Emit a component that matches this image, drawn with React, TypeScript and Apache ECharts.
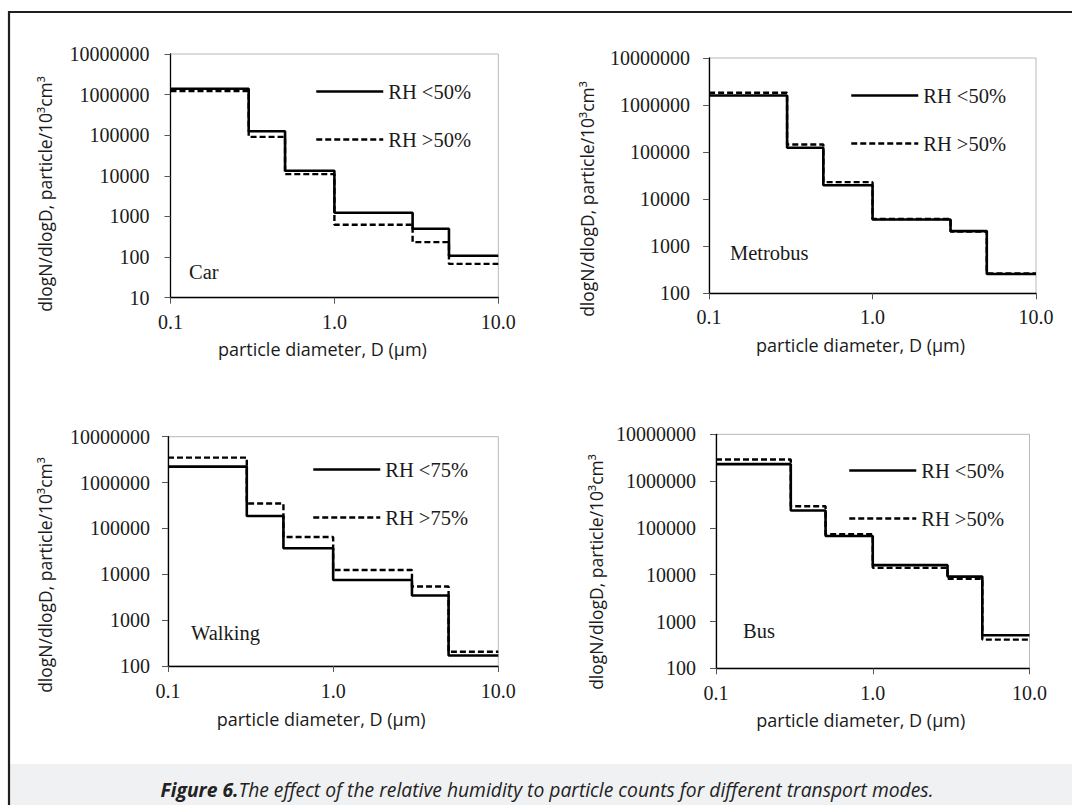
import React, { useEffect, useRef } from "react";
import * as echarts from "echarts";

// ---- data ----
const BIN_EDGES = [0.1, 0.3, 0.5, 1.0, 3.0, 5.0, 10.0];

const CAR_LOW = [1.4e6, 1.25e5, 1.33e4, 1230, 500, 108];
const CAR_HIGH = [1.23e6, 9.1e4, 1.1e4, 625, 234, 68];
const METRO_LOW = [1.6e6, 1.24e5, 1.98e4, 3700, 2100, 257];
const METRO_HIGH = [1.83e6, 1.45e5, 2.3e4, 3800, 2050, 265];
const WALK_LOW = [2.23e6, 1.86e5, 3.7e4, 7500, 3450, 170];
const WALK_HIGH = [3.5e6, 3.5e5, 6.5e4, 1.24e4, 5400, 205];
const BUS_LOW = [2.3e6, 2.35e5, 6.7e4, 1.6e4, 9100, 510];
const BUS_HIGH = [2.9e6, 2.9e5, 7.3e4, 1.4e4, 8200, 410];

const PANEL_NAMES = ["Car", "Metrobus", "Walking", "Bus"];
const LEGEND_50 = ["RH <50%", "RH >50%"];
const LEGEND_75 = ["RH <75%", "RH >75%"];
const Y_MINS = [10, 100, 100, 100];
const Y_MAX = 1e7;
const X_MIN = 0.1;
const X_MAX = 10;

const X_TITLE = "particle diameter, D (µm)";
const Y_TITLE = "dlogN/dlogD, particle/10³cm³";
const CAPTION_BOLD = "Figure 6.";
const CAPTION_REST =
  "The effect of the relative humidity to particle counts for different transport modes.";

// ---- layout ----
const PANELS = [
  { left: 170.5, top: 54, right: 498.3, bottom: 297.7, ylabM: 21, xlabM: 14, xTitleGap: 42, yTitle: [45, 194], legend: [310, 76], tag: [189, 272] },
  { left: 709.1, top: 58, right: 1036, bottom: 293.3, ylabM: 19, xlabM: 14, xTitleGap: 43, yTitle: [587, 199], legend: [845, 80], tag: [730, 253] },
  { left: 168, top: 436.7, right: 498.3, bottom: 666, ylabM: 18, xlabM: 15, xTitleGap: 44, yTitle: [45, 575], legend: [307, 454], tag: [191, 633] },
  { left: 716, top: 434.3, right: 1029.5, bottom: 668.3, ylabM: 20, xlabM: 15, xTitleGap: 43, yTitle: [596, 572], legend: [843, 455], tag: [743, 631] },
];

const SERIES_SETS = [
  [CAR_LOW, CAR_HIGH, LEGEND_50],
  [METRO_LOW, METRO_HIGH, LEGEND_50],
  [WALK_LOW, WALK_HIGH, LEGEND_75],
  [BUS_LOW, BUS_HIGH, LEGEND_50],
];

const stepData = (vals: number[]) =>
  BIN_EDGES.map((e, i) => [e, vals[Math.min(i, vals.length - 1)]]);

const SERIF = "Liberation Serif";
const SANS = "Open Sans";
const INK = "#1a1a1a";

export default function App() {
  const ref = useRef<HTMLDivElement>(null);

  useEffect(() => {
    if (!ref.current) return;
    const chart = echarts.init(ref.current, undefined, { renderer: "svg" });

    const grid: any[] = [];
    const xAxis: any[] = [];
    const yAxis: any[] = [];
    const series: any[] = [];
    const legend: any[] = [];
    const graphic: any[] = [];

    // outer frame & caption band
    graphic.push(
      { type: "rect", shape: { x: 10, y: 764, width: 1062, height: 41 }, style: { fill: "#f0f1f3" }, silent: true },
      { type: "line", shape: { x1: 9, y1: 11, x2: 9, y2: 805 }, style: { stroke: "#231f20", lineWidth: 2.2 }, silent: true },
      { type: "line", shape: { x1: 8, y1: 12, x2: 1072, y2: 12 }, style: { stroke: "#231f20", lineWidth: 2.2 }, silent: true },
      {
        type: "text",
        x: 547,
        y: 789,
        silent: true,
        style: {
          text: `{b|${CAPTION_BOLD}}{i|${CAPTION_REST}}`,
          align: "center",
          verticalAlign: "middle",
          rich: {
            b: { fontFamily: SANS, fontSize: 19.3, fontWeight: "bold", fontStyle: "italic", fill: "#222" },
            i: { fontFamily: SANS, fontSize: 19.3, fontStyle: "italic", fill: "#222" },
          },
        },
      }
    );

    PANELS.forEach((p, k) => {
      const [low, high, names] = SERIES_SETS[k] as [number[], number[], string[]];
      grid.push({
        left: p.left,
        top: p.top,
        width: p.right - p.left,
        height: p.bottom - p.top,
        show: true,
        borderColor: "#b8b8b8",
        borderWidth: 1,
        backgroundColor: "transparent",
        containLabel: false,
      });
      xAxis.push({
        type: "log",
        logBase: 10,
        gridIndex: k,
        min: X_MIN,
        max: X_MAX,
        splitNumber: 2,
        name: X_TITLE,
        nameLocation: "middle",
        nameGap: p.xTitleGap,
        nameTextStyle: { fontFamily: SANS, fontSize: 18, color: INK, padding: [0, 24, 0, 0] },
        axisLine: { show: true, onZero: false, lineStyle: { color: "#000", width: 1.3 } },
        axisTick: { show: true, inside: false, length: 6, lineStyle: { color: "#555", width: 1 } },
        minorTick: { show: false },
        splitLine: { show: false },
        axisLabel: {
          margin: p.xlabM,
          fontFamily: SERIF,
          fontSize: 20,
          color: INK,
          formatter: (v: number) => v.toFixed(1),
        },
      });
      yAxis.push({
        type: "log",
        logBase: 10,
        gridIndex: k,
        min: Y_MINS[k],
        max: Y_MAX,
        splitNumber: Math.round(Math.log10(Y_MAX / Y_MINS[k])),
        axisLine: { show: true, onZero: false, lineStyle: { color: "#000", width: 1.3 } },
        axisTick: { show: true, inside: false, length: 6, lineStyle: { color: "#555", width: 1 } },
        splitLine: { show: false },
        axisLabel: {
          margin: p.ylabM,
          fontFamily: SERIF,
          fontSize: 20,
          color: INK,
          formatter: (v: number) => String(Math.round(v)),
        },
      });
      series.push(
        {
          type: "line",
          name: names[0],
          xAxisIndex: k,
          yAxisIndex: k,
          step: "end",
          symbol: "none",
          data: stepData(low),
          lineStyle: { color: "#000", width: 2.6, type: "solid" },
          itemStyle: { color: "#000" },
          z: 3,
        },
        {
          type: "line",
          name: names[1],
          xAxisIndex: k,
          yAxisIndex: k,
          step: "end",
          symbol: "none",
          data: stepData(high),
          lineStyle: { color: "#000", width: 2.4, type: [6, 3] },
          itemStyle: { color: "#000" },
          z: 2,
        }
      );
      legend.push({
        data: names,
        orient: "vertical",
        left: p.legend[0],
        top: p.legend[1],
        itemWidth: 67,
        itemHeight: 14,
        itemGap: 27,
        selectedMode: false,
        itemStyle: { opacity: 0 },
        lineStyle: { width: 2.5 },
        textStyle: { fontFamily: SERIF, fontSize: 20.5, color: INK },
      });
      graphic.push(
        {
          type: "text",
          x: p.tag[0],
          y: p.tag[1],
          silent: true,
          style: { text: PANEL_NAMES[k], fontFamily: SERIF, fontSize: 20.5, fill: INK, align: "left", verticalAlign: "middle" },
        },
        {
          type: "text",
          x: p.yTitle[0],
          y: p.yTitle[1],
          rotation: Math.PI / 2,
          silent: true,
          style: { text: Y_TITLE, fontFamily: SANS, fontSize: 17.5, fill: INK, align: "center", verticalAlign: "middle" },
        }
      );
    });

    chart.setOption({
      animation: false,
      backgroundColor: "#fff",
      grid,
      xAxis,
      yAxis,
      series,
      legend,
      graphic,
    });

    return () => chart.dispose();
  }, []);

  return (
    <div
      ref={ref}
      style={{ position: "absolute", left: 0, top: 0, width: 1072, height: 805 }}
    />
  );
}
